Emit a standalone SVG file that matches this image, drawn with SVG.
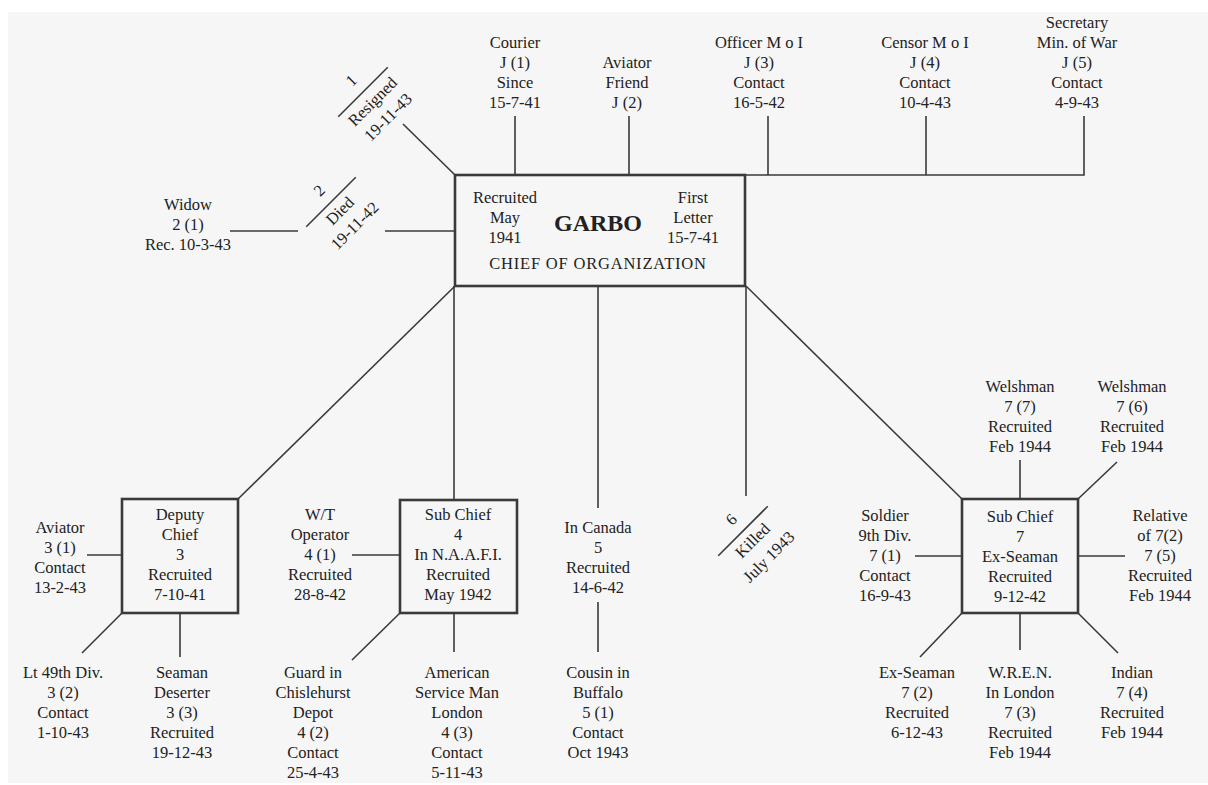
<svg xmlns="http://www.w3.org/2000/svg" width="1208" height="785" viewBox="0 0 1208 785">
<style>
.t{font-family:"Liberation Serif","Times New Roman",serif;font-size:16.5px;fill:#222;text-anchor:middle}
.b{font-weight:bold;font-size:24px}
.c{letter-spacing:0.8px}
.ln{stroke:#3a3a3a;stroke-width:1.6;fill:none}
.box{stroke:#3a3a3a;stroke-width:2.6;fill:none}
</style>
<rect x="0" y="0" width="1208" height="785" fill="#ffffff"/>
<rect x="8" y="12" width="1200" height="771" fill="#f6f6f6"/>
<g id="connectors" class="ln">
  <polyline points="455,175 1084,175 1084,116"/>
  <line x1="515" y1="116" x2="515" y2="175"/>
  <line x1="629" y1="116" x2="629" y2="175"/>
  <line x1="768" y1="116" x2="768" y2="175"/>
  <line x1="926" y1="116" x2="926" y2="175"/>
  <line x1="403" y1="124" x2="455" y2="175"/>
  <line x1="230" y1="231" x2="298" y2="231"/>
  <line x1="385" y1="231" x2="455" y2="231"/>
  <line x1="455" y1="286" x2="238" y2="499"/>
  <line x1="454" y1="286" x2="454" y2="500"/>
  <line x1="598" y1="286" x2="598" y2="508"/>
  <line x1="746" y1="286" x2="746" y2="496"/>
  <line x1="746" y1="286" x2="962" y2="499"/>
  <line x1="87" y1="555" x2="122" y2="555"/>
  <line x1="122" y1="613" x2="82" y2="653"/>
  <line x1="180" y1="613" x2="180" y2="657"/>
  <line x1="352" y1="555" x2="400" y2="555"/>
  <line x1="400" y1="613" x2="352" y2="660"/>
  <line x1="454" y1="613" x2="454" y2="652"/>
  <line x1="598" y1="602" x2="598" y2="652"/>
  <line x1="915" y1="556" x2="962" y2="556"/>
  <line x1="1078" y1="556" x2="1125" y2="556"/>
  <line x1="1020" y1="460" x2="1020" y2="499"/>
  <line x1="1078" y1="499" x2="1117" y2="462"/>
  <line x1="962" y1="613" x2="920" y2="657"/>
  <line x1="1020" y1="613" x2="1020" y2="650"/>
  <line x1="1078" y1="613" x2="1118" y2="653"/>
</g>
<g id="garbo">
  <rect class="box" x="455" y="175" width="290" height="111"/>
  <text class="t" x="505" y="203"><tspan x="505">Recruited</tspan><tspan x="505" dy="20">May</tspan><tspan x="505" dy="20">1941</tspan></text>
  <text class="t b" x="598" y="231">GARBO</text>
  <text class="t" x="693" y="203"><tspan x="693">First</tspan><tspan x="693" dy="20">Letter</tspan><tspan x="693" dy="20">15-7-41</tspan></text>
  <text class="t c" x="598" y="269">CHIEF OF ORGANIZATION</text>
</g>
<g id="courier"><text class="t" x="515" y="48"><tspan x="515">Courier</tspan><tspan x="515" dy="20">J (1)</tspan><tspan x="515" dy="20">Since</tspan><tspan x="515" dy="20">15-7-41</tspan></text></g>
<g id="aviator-friend"><text class="t" x="627" y="68"><tspan x="627">Aviator</tspan><tspan x="627" dy="20">Friend</tspan><tspan x="627" dy="20">J (2)</tspan></text></g>
<g id="officer"><text class="t" x="759" y="48"><tspan x="759">Officer M o I</tspan><tspan x="759" dy="20">J (3)</tspan><tspan x="759" dy="20">Contact</tspan><tspan x="759" dy="20">16-5-42</tspan></text></g>
<g id="censor"><text class="t" x="925" y="48"><tspan x="925">Censor M o I</tspan><tspan x="925" dy="20">J (4)</tspan><tspan x="925" dy="20">Contact</tspan><tspan x="925" dy="20">10-4-43</tspan></text></g>
<g id="secretary"><text class="t" x="1077" y="28"><tspan x="1077">Secretary</tspan><tspan x="1077" dy="20">Min. of War</tspan><tspan x="1077" dy="20">J (5)</tspan><tspan x="1077" dy="20">Contact</tspan><tspan x="1077" dy="20">4-9-43</tspan></text></g>
<g id="agent1" transform="translate(363,92) rotate(-45)">
  <line class="ln" x1="-35" y1="0" x2="35" y2="0"/>
  <text class="t" x="0" y="-11">1</text>
  <text class="t" x="0" y="19">Resigned</text>
  <text class="t" x="0" y="41">19-11-43</text>
</g>
<g id="agent2" transform="translate(331,202) rotate(-45)">
  <line class="ln" x1="-35" y1="0" x2="35" y2="0"/>
  <text class="t" x="0" y="-11">2</text>
  <text class="t" x="0" y="18">Died</text>
  <text class="t" x="0" y="39">19-11-42</text>
</g>
<g id="widow"><text class="t" x="188" y="210"><tspan x="188">Widow</tspan><tspan x="188" dy="20">2 (1)</tspan><tspan x="188" dy="20">Rec. 10-3-43</tspan></text></g>
<g id="deputy">
  <rect class="box" x="122" y="499" width="116" height="114"/>
  <text class="t" x="180" y="520"><tspan x="180">Deputy</tspan><tspan x="180" dy="20">Chief</tspan><tspan x="180" dy="20">3</tspan><tspan x="180" dy="20">Recruited</tspan><tspan x="180" dy="20">7-10-41</tspan></text>
</g>
<g id="aviator3"><text class="t" x="60" y="533"><tspan x="60">Aviator</tspan><tspan x="60" dy="20">3 (1)</tspan><tspan x="60" dy="20">Contact</tspan><tspan x="60" dy="20">13-2-43</tspan></text></g>
<g id="lt49"><text class="t" x="63" y="678"><tspan x="63">Lt 49th Div.</tspan><tspan x="63" dy="20">3 (2)</tspan><tspan x="63" dy="20">Contact</tspan><tspan x="63" dy="20">1-10-43</tspan></text></g>
<g id="seaman"><text class="t" x="182" y="678"><tspan x="182">Seaman</tspan><tspan x="182" dy="20">Deserter</tspan><tspan x="182" dy="20">3 (3)</tspan><tspan x="182" dy="20">Recruited</tspan><tspan x="182" dy="20">19-12-43</tspan></text></g>
<g id="subchief4">
  <rect class="box" x="400" y="500" width="117" height="113"/>
  <text class="t" x="458" y="520"><tspan x="458">Sub Chief</tspan><tspan x="458" dy="20">4</tspan><tspan x="458" dy="20">In N.A.A.F.I.</tspan><tspan x="458" dy="20">Recruited</tspan><tspan x="458" dy="20">May 1942</tspan></text>
</g>
<g id="wt"><text class="t" x="320" y="520"><tspan x="320">W/T</tspan><tspan x="320" dy="20">Operator</tspan><tspan x="320" dy="20">4 (1)</tspan><tspan x="320" dy="20">Recruited</tspan><tspan x="320" dy="20">28-8-42</tspan></text></g>
<g id="guard"><text class="t" x="313" y="678"><tspan x="313">Guard in</tspan><tspan x="313" dy="20">Chislehurst</tspan><tspan x="313" dy="20">Depot</tspan><tspan x="313" dy="20">4 (2)</tspan><tspan x="313" dy="20">Contact</tspan><tspan x="313" dy="20">25-4-43</tspan></text></g>
<g id="american"><text class="t" x="457" y="678"><tspan x="457">American</tspan><tspan x="457" dy="20">Service Man</tspan><tspan x="457" dy="20">London</tspan><tspan x="457" dy="20">4 (3)</tspan><tspan x="457" dy="20">Contact</tspan><tspan x="457" dy="20">5-11-43</tspan></text></g>
<g id="canada"><text class="t" x="598" y="533"><tspan x="598">In Canada</tspan><tspan x="598" dy="20">5</tspan><tspan x="598" dy="20">Recruited</tspan><tspan x="598" dy="20">14-6-42</tspan></text></g>
<g id="cousin"><text class="t" x="598" y="678"><tspan x="598">Cousin in</tspan><tspan x="598" dy="20">Buffalo</tspan><tspan x="598" dy="20">5 (1)</tspan><tspan x="598" dy="20">Contact</tspan><tspan x="598" dy="20">Oct 1943</tspan></text></g>
<g id="agent6" transform="translate(743,531) rotate(-45)">
  <line class="ln" x1="-35" y1="0" x2="35" y2="0"/>
  <text class="t" x="0" y="-11">6</text>
  <text class="t" x="0" y="19">Killed</text>
  <text class="t" x="0" y="42">July 1943</text>
</g>
<g id="subchief7">
  <rect class="box" x="962" y="499" width="116" height="114"/>
  <text class="t" x="1020" y="522"><tspan x="1020">Sub Chief</tspan><tspan x="1020" dy="20">7</tspan><tspan x="1020" dy="20">Ex-Seaman</tspan><tspan x="1020" dy="20">Recruited</tspan><tspan x="1020" dy="20">9-12-42</tspan></text>
</g>
<g id="soldier"><text class="t" x="885" y="521"><tspan x="885">Soldier</tspan><tspan x="885" dy="20">9th Div.</tspan><tspan x="885" dy="20">7 (1)</tspan><tspan x="885" dy="20">Contact</tspan><tspan x="885" dy="20">16-9-43</tspan></text></g>
<g id="relative"><text class="t" x="1160" y="521"><tspan x="1160">Relative</tspan><tspan x="1160" dy="20">of 7(2)</tspan><tspan x="1160" dy="20">7 (5)</tspan><tspan x="1160" dy="20">Recruited</tspan><tspan x="1160" dy="20">Feb 1944</tspan></text></g>
<g id="welshman7"><text class="t" x="1020" y="392"><tspan x="1020">Welshman</tspan><tspan x="1020" dy="20">7 (7)</tspan><tspan x="1020" dy="20">Recruited</tspan><tspan x="1020" dy="20">Feb 1944</tspan></text></g>
<g id="welshman6"><text class="t" x="1132" y="392"><tspan x="1132">Welshman</tspan><tspan x="1132" dy="20">7 (6)</tspan><tspan x="1132" dy="20">Recruited</tspan><tspan x="1132" dy="20">Feb 1944</tspan></text></g>
<g id="exseaman"><text class="t" x="917" y="678"><tspan x="917">Ex-Seaman</tspan><tspan x="917" dy="20">7 (2)</tspan><tspan x="917" dy="20">Recruited</tspan><tspan x="917" dy="20">6-12-43</tspan></text></g>
<g id="wren"><text class="t" x="1020" y="678"><tspan x="1020">W.R.E.N.</tspan><tspan x="1020" dy="20">In London</tspan><tspan x="1020" dy="20">7 (3)</tspan><tspan x="1020" dy="20">Recruited</tspan><tspan x="1020" dy="20">Feb 1944</tspan></text></g>
<g id="indian"><text class="t" x="1132" y="678"><tspan x="1132">Indian</tspan><tspan x="1132" dy="20">7 (4)</tspan><tspan x="1132" dy="20">Recruited</tspan><tspan x="1132" dy="20">Feb 1944</tspan></text></g>
</svg>
